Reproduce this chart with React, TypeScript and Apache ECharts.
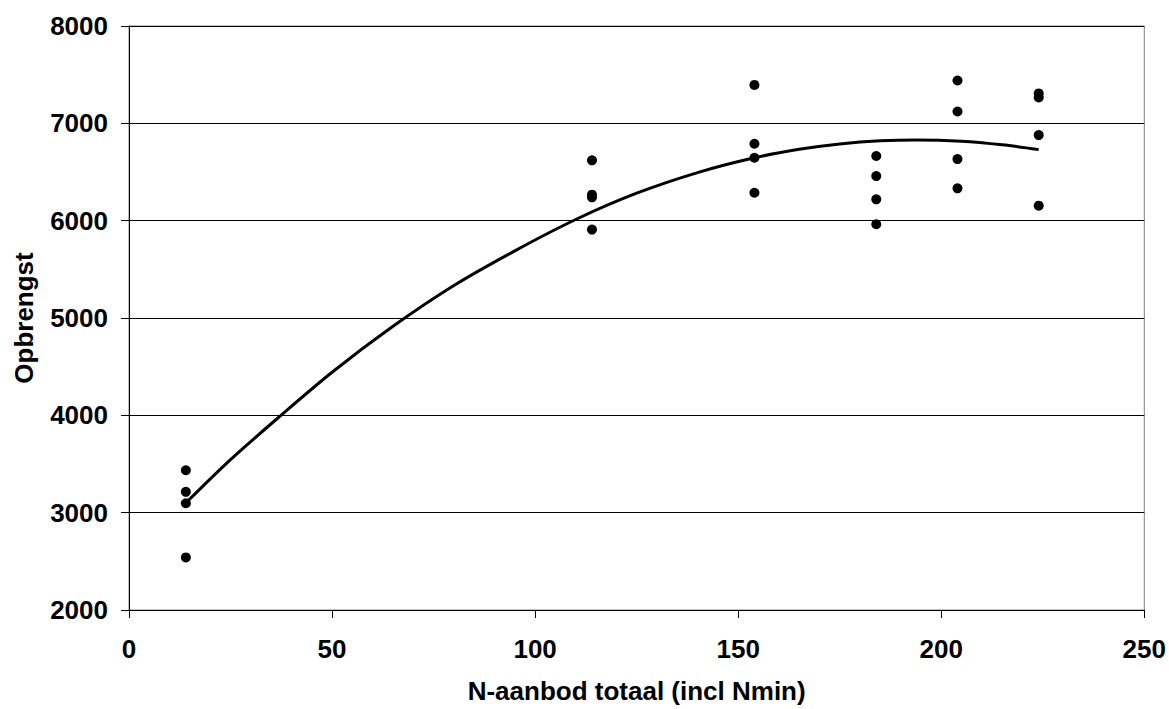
import React, { useEffect, useRef } from "react";
import * as echarts from "echarts";

const xTicks = [0, 50, 100, 150, 200, 250];
const yTicks = [2000, 3000, 4000, 5000, 6000, 7000, 8000];

// Observations: N supply (x) and yield (y)
const obsX = [
  14, 14, 14, 14,
  114, 114, 114, 114,
  154, 154, 154, 154,
  184, 184, 184, 184,
  204, 204, 204, 204,
  224, 224, 224, 224,
];
const obsY = [
  3436, 3214, 3097, 2540,
  6620, 6267, 6240, 5908,
  7395, 6790, 6646, 6287,
  6664, 6458, 6219, 5963,
  7440, 7122, 6633, 6332,
  7307, 7266, 6879, 6154,
];

// Trend line
const trendX = [14, 25, 37, 50, 65, 80, 95, 110, 125, 140, 154, 165, 175, 185, 194, 205, 215, 224];
const trendY = [3100, 3545, 3985, 4443, 4915, 5334, 5690, 6012, 6282, 6494, 6646, 6733, 6788, 6821, 6830, 6816, 6779, 6730];

export default function App() {
  const ref = useRef<HTMLDivElement>(null);
  useEffect(() => {
    document.body.style.margin = "0";
    const chart = echarts.init(ref.current!, null, { renderer: "svg" });
    const font = "'Liberation Sans', Arial, sans-serif";
    chart.setOption({
      animation: false,
      backgroundColor: "#ffffff",
      grid: {
        left: 129,
        top: 26,
        right: 24,
        bottom: 98,
        show: true,
        borderColor: "#808080",
        borderWidth: 1,
        backgroundColor: "transparent",
      },
      xAxis: {
        type: "value",
        min: xTicks[0],
        max: xTicks[xTicks.length - 1],
        interval: 50,
        name: "N-aanbod totaal (incl Nmin)",
        nameLocation: "middle",
        nameGap: 68,
        nameTextStyle: { fontFamily: font, fontWeight: "bold", fontSize: 26, color: "#000" },
        axisLine: { show: true, lineStyle: { color: "#000", width: 1 } },
        axisTick: { show: true, length: 8, inside: false, lineStyle: { color: "#000" } },
        axisLabel: {
          fontFamily: font, fontWeight: "bold", fontSize: 26, color: "#000", margin: 26,
          formatter: (v: number) => String(v),
        },
        splitLine: { show: false },
      },
      yAxis: {
        type: "value",
        min: yTicks[0],
        max: yTicks[yTicks.length - 1],
        interval: 1000,
        name: "Opbrengst",
        nameLocation: "middle",
        nameGap: 92,
        nameRotate: 90,
        nameTextStyle: { fontFamily: font, fontWeight: "bold", fontSize: 26, color: "#000" },
        axisLine: { show: true, lineStyle: { color: "#000", width: 1 } },
        axisTick: { show: true, length: 8, inside: false, lineStyle: { color: "#000" } },
        axisLabel: {
          fontFamily: font, fontWeight: "bold", fontSize: 26, color: "#000", margin: 21,
          formatter: (v: number) => String(v),
        },
        splitLine: { show: true, lineStyle: { color: "#000", width: 1 } },
      },
      series: [
        {
          type: "line",
          data: trendX.map((x, i) => [x, trendY[i]]),
          smooth: 0.3,
          showSymbol: false,
          symbol: "none",
          lineStyle: { color: "#000", width: 3 },
          z: 2,
        },
        {
          type: "scatter",
          data: obsX.map((x, i) => [x, obsY[i]]),
          symbol: "circle",
          symbolSize: 10,
          itemStyle: { color: "#000", opacity: 1 },
          z: 3,
        },
      ],
    });
    return () => chart.dispose();
  }, []);
  return (
    <div
      ref={ref}
      style={{ position: "absolute", left: 0, top: 0, width: 1169, height: 709 }}
    />
  );
}
